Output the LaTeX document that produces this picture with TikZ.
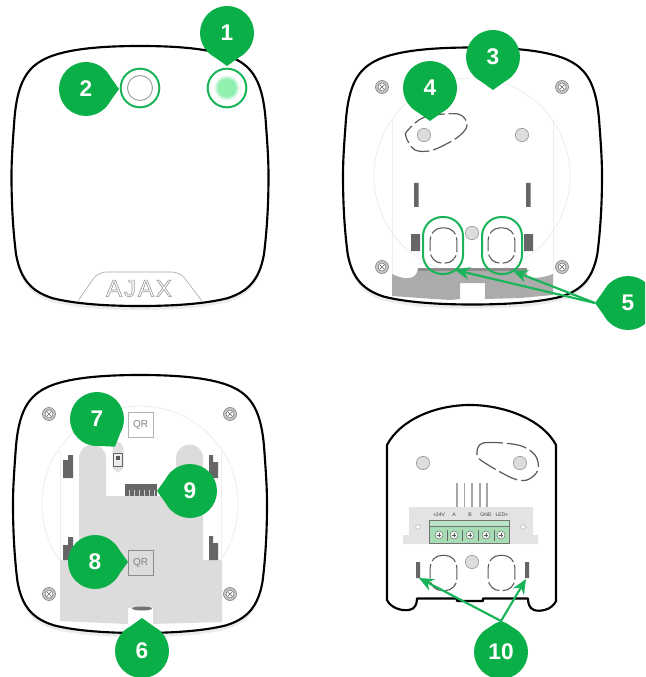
\documentclass[tikz,border=0pt]{standalone}
\usepackage{fontspec}
\setmainfont{Liberation Sans}
\usetikzlibrary{calc,arrows.meta}
\definecolor{ajgreen}{HTML}{0BAF47}
\definecolor{ringgreen}{HTML}{19B458}
\definecolor{glowgreen}{HTML}{8FF0B0}
\definecolor{boardgrey}{HTML}{DCDCDC}
\definecolor{footgrey}{HTML}{ABABAB}
\definecolor{darkbar}{HTML}{666666}
\definecolor{faint}{HTML}{EEEEEE}
\definecolor{holefill}{HTML}{DDDDDD}
\definecolor{termgreen}{HTML}{A6DDB5}
\definecolor{termlight}{HTML}{B8E6C6}
\tikzset{
  px/.style={x=0.75pt,y=-0.75pt},
  bub/.style={circle,fill=ajgreen,text=white,minimum size=40.5pt,inner sep=0pt,outer sep=0pt,font=\fontsize{17}{17}\selectfont\bfseries},
  outline/.style={draw=black,line width=1.6pt,fill=white,line join=round},
  faintline/.style={draw=faint,line width=0.6pt},
  ring/.style={circle,draw=ringgreen,line width=1.5pt,minimum size=29pt,inner sep=0pt,outer sep=0pt},
  oval/.style={rectangle,draw=ringgreen,line width=1.5pt,minimum width=30pt,minimum height=42.75pt,rounded corners=14.5pt,inner sep=0pt},
  dashbox/.style={rectangle,draw=black!65,line width=0.8pt,minimum width=20pt,minimum height=26.5pt,rounded corners=9pt,dash pattern=on 11pt off 2.5pt,inner sep=0pt},
  dashdrop/.style={draw=black!65,line width=0.9pt,dash pattern=on 15pt off 3pt},
  hole/.style={circle,draw=black!45,fill=holefill,line width=0.4pt,minimum size=10pt,inner sep=0pt},
  bar/.style={fill=darkbar},
  greenarrow/.style={draw=ringgreen,line width=1.6pt,-{Stealth[length=11pt,width=9.5pt]}},
  qrbox/.style={rectangle,draw=#1,line width=0.5pt,minimum size=18.5pt,inner sep=0pt,font=\fontsize{7.5}{8}\selectfont,text=black!50},
  tlabel/.style={font=\fontsize{3.8}{4}\selectfont,inner sep=0pt,text=black!75},
  tscrew/.style={circle,draw=black!55,fill=white!85!termgreen,line width=0.4pt,minimum size=6pt,inner sep=0pt}
}
\newcommand{\shellpath}{(0,-1) .. controls (.35,-1) and (.58,-.97) .. (.72,-.91) .. controls (.88,-.84) and (.96,-.72) .. (.98,-.4) .. controls (.995,-.2) and (1,-.1) .. (1,0) .. controls (1,.2) and (.99,.4) .. (.965,.6) .. controls (.93,.8) and (.84,.89) .. (.68,.94) .. controls (.5,.985) and (.25,1) .. (0,1) .. controls (-.25,1) and (-.5,.985) .. (-.68,.94) .. controls (-.84,.89) and (-.93,.8) .. (-.965,.6) .. controls (-.99,.4) and (-1,.2) .. (-1,0) .. controls (-1,-.1) and (-.995,-.2) .. (-.98,-.4) .. controls (-.96,-.72) and (-.88,-.84) .. (-.72,-.91) .. controls (-.58,-.97) and (-.35,-1) .. (0,-1) -- cycle}
\newcommand{\shell}[4]{%
  \begin{scope}[shift={(#1,#2+4)},x=#3*0.75pt,y=-#4*0.75pt]
    \fill[black!8] \shellpath;
  \end{scope}
  \begin{scope}[shift={(#1,#2)},x=#3*0.75pt,y=-#4*0.75pt]
    \path[outline] \shellpath;
  \end{scope}}
\newcommand{\screw}[2]{%
  \draw[draw=black!55,fill=black!22,line width=0.4pt] (#1,#2) circle[radius=6.5];
  \draw[draw=black!55,fill=white,line width=0.4pt] (#1,#2) circle[radius=4];
  \draw[black!60,line width=0.4pt] (#1-2.5,#2-2.5) -- (#1+2.5,#2+2.5) (#1-2.5,#2+2.5) -- (#1+2.5,#2-2.5);}
\newcommand{\pinnode}[6]{%
  \node[bub] (#1) at (#2,#3) {#4};
  \coordinate (#1t) at ($(#1)+(#5:#6*0.75pt)$);
  \fill[ajgreen] (#1.{#5+42}) .. controls ($(#1)+(#5+9:22.5pt)$) .. (#1t) .. controls ($(#1)+(#5-9:22.5pt)$) .. (#1.{#5-42}) -- cycle;}
\begin{document}
\begin{tikzpicture}[px]
\useasboundingbox (0,0) rectangle (645,677);
\clip (0,0) rectangle (645,677);
\fill[white] (0,0) rectangle (645,677);

% ---------- device 1: front
\shell{140}{176}{128.5}{130}
\draw[black!35,line width=0.45pt,rounded corners=6pt] (78,301) -- (98,272) -- (180,272) -- (202,301);
\node[font=\fontsize{18}{18}\selectfont,text=black!38,inner sep=0pt] (logo) at (139,288.5) {\special{pdf:code 1 Tr 0.5 w}\addfontfeatures{LetterSpace=8}AJAX\special{pdf:code 0 Tr}};
\foreach \r/\m in {13/8,12.5/16,12/26,11.5/38,11/50,10.5/62,10/74,9.5/86,9/100} \fill[glowgreen!\m!white] (227,88) circle[radius=\r];
\node[ring] (led) at (227,88) {};
\node[ring] (btn) at (140,88) {};
\draw[black!35,line width=0.8pt] (btn) circle[radius=12.5];

% ---------- device 2: back
\shell{472.5}{176}{129.5}{128.5}
\draw[faintline] (472,176) circle[radius=98];
\draw[faintline] (392,120) -- (392,275) (553,120) -- (553,275);
\fill[footgrey] (392,274) .. controls (402,279) and (417,282) .. (418,268) -- (527,268) -- (527,277) .. controls (535,279) and (546,277) .. (553,274) -- (553,295) -- (520,298) -- (485,299) -- (485,283) -- (460,283) -- (460,299) -- (450,300) -- (420,298) -- (392,296) -- cycle;
\fill[black!45] (418,268) rectangle (527,270.5);
\screw{382}{87}\screw{562}{87}\screw{382}{267}\screw{562}{267}
\node[hole] (h1) at (424,135) {};
\node[hole] (h2) at (522,135) {};
\node[hole] (h3) at (472,233) {};
\draw[dashdrop] plot[smooth cycle,tension=0.55] coordinates {(408,130)(425,117)(458,114)(467,125)(458,137)(433,150)(415,150)(406,137)};
\fill[bar] (414,183) rectangle (418.5,207) (526,183) rectangle (530.5,207);
\fill[bar] (411,234) rectangle (420,251) (524,234) rectangle (533,251);
\node[dashbox] (d1) at (443.5,245.5) {};
\node[dashbox] (d2) at (501.5,245.5) {};
\node[oval] (o1) at (443,245.5) {};
\node[oval] (o2) at (502,245.5) {};

% ---------- device 3: back with board
\shell{140}{504}{127}{129}
\draw[faintline] (140,504) circle[radius=98];
\draw[faintline] (60,450) -- (60,560) (221,450) -- (221,560);
\fill[boardgrey] (79,458) arc[start angle=180,end angle=360,radius=13.5] -- (106,496) -- (176,496) -- (176,458) arc[start angle=180,end angle=360,radius=13.5] -- (203,560) -- (222,560) -- (222,622) -- (153,624) -- (153,608) -- (128,608) -- (128,624) -- (60,621) -- (60,560) -- (79,560) -- cycle;
\fill[white] (128,608) rectangle (153,634);
\fill[black!55] (142,608.5) ellipse[x radius=10,y radius=2];
\screw{49}{414}\screw{230}{414}\screw{49}{594}\screw{230}{594}
\fill[bar] (63,460) -- (68,460) -- (68,455) -- (73,455) -- (73,478) -- (63,478) -- cycle;
\fill[bar] (209,455) -- (213,455) -- (213,462) -- (218,462) -- (218,478) -- (209,478) -- cycle;
\fill[bar] (63,545) -- (68,545) -- (68,537) -- (73,537) -- (73,560) -- (63,560) -- cycle;
\fill[bar] (209,536) -- (213,536) -- (213,543) -- (218,543) -- (218,560) -- (209,560) -- cycle;
\fill[black!12,rounded corners=5pt] (112.5,442) rectangle (123.5,472);
\draw[black!60,fill=black!8,line width=0.7pt] (113.5,453) rectangle (122,466);
\fill[black!65] (116,456) rectangle (120,460);
\node[qrbox=black!30,fill=white] (qr1) at (140.5,424.5) {QR};
\node[qrbox=black!45] (qr2) at (140.5,562.5) {QR};
\fill[bar] (125,484) rectangle (157,496);
\foreach \x in {129,134,139,144,149,154} \draw[white!80!black,line width=0.7pt] (\x,490) -- (\x,496);

% ---------- device 4: terminal cover
\draw[black,line width=1.6pt,fill=white,line join=round] (387,600) -- (387,445) .. controls (400,420) and (435,405) .. (470,405) .. controls (505,405) and (543,420) .. (556,445) -- (556,601) .. controls (552,610) and (540,612) .. (534,610) .. controls (529,608) and (528,603) .. (528,598.5) -- (483,598.5) -- (483,601) -- (457,601) -- (457,598.5) -- (417,598.5) .. controls (417,604) and (415,609) .. (409,610) .. controls (401,611) and (391,608) .. (387,600) -- cycle;
\node[hole] (h4) at (423,463) {};
\node[hole] (h5) at (520,463) {};
\node[hole] (h6) at (472,562) {};
\draw[dashdrop] plot[smooth cycle,tension=0.55] coordinates {(477,455)(483,443)(518,445)(535,455)(538,470)(527,480)(512,478)(485,463)};
\foreach \x in {457,464.5,472,480,487} \draw[black!35,line width=0.8pt] (\x,483) -- (\x,507);
\fill[black!11] (409,507) -- (533,507) -- (533,535) -- (538,535) -- (538,544) -- (403,544) -- (403,535) -- (409,535) -- cycle;
\draw[fill=termgreen,draw=black!55,line width=0.5pt] (429,520) rectangle (509,543);
\draw[fill=termlight,draw=black!55,line width=0.4pt] (429,520) rectangle (509,526);
\foreach \x in {447,462,478,494} \draw[black!60,line width=0.5pt] (\x,530) -- (\x,541);
\foreach \n/\x in {a/439,b/454,c/470,d/486,e/501} {
  \node[tscrew] (ts\n) at (\x,535) {};
  \draw[black!65,line width=0.35pt] (\x-2.3,535) -- (\x+2.3,535) (\x,532.7) -- (\x,537.3);
}
\node[tlabel] (l1) at (439,515) {+24V};
\node[tlabel] (l2) at (454,515) {A};
\node[tlabel] (l3) at (470,515) {B};
\node[tlabel] (l4) at (486,515) {GND};
\node[tlabel] (l5) at (502,515) {LED+};
\draw[black!35,fill=white,line width=0.3pt] (418,527) circle[radius=2.3] (523,527) circle[radius=2.3];
\node[dashbox] (d3) at (443.5,573) {};
\node[dashbox] (d4) at (501.5,573) {};
\fill[bar] (416,562) rectangle (420,578) (525,562) rectangle (529,578);
\coordinate (bar1) at (419,578);
\coordinate (bar2) at (526,579);
\coordinate (a5l) at (455,270);
\coordinate (a5r) at (513,271);

% ---------- numbered pins
\pinnode{b1}{227}{33}{1}{-90}{33}
\pinnode{b2}{86}{89}{2}{0}{33}
\pinnode{b3}{493}{57}{3}{-90}{33}
\pinnode{b4}{430}{88}{4}{-90}{33}
\pinnode{b5}{628}{303}{5}{180}{33}
\pinnode{b6}{142}{651}{6}{90}{33}
\pinnode{b7}{97}{419}{7}{-57}{33}
\pinnode{b8}{95}{562}{8}{0}{33}
\pinnode{b9}{190}{491}{9}{180}{33}
\pinnode{b10}{501}{652}{10}{90}{31}
\draw[greenarrow] (b5t) -- (a5l);
\draw[greenarrow] (b5t) -- (a5r);
\draw[greenarrow] (b10t) -- (bar1);
\draw[greenarrow] (b10t) -- (bar2);
\end{tikzpicture}
\end{document}
